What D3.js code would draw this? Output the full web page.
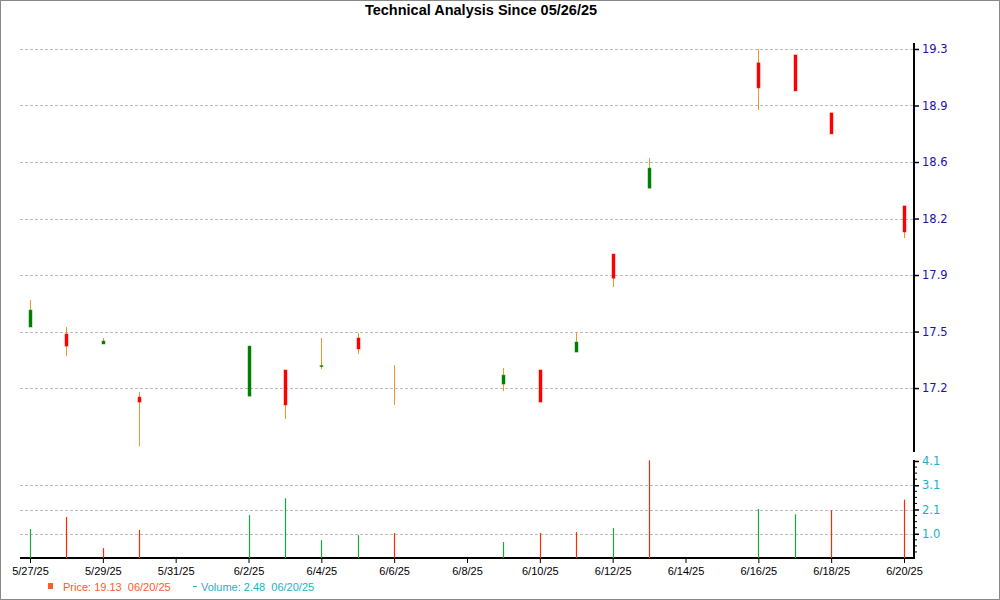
<!DOCTYPE html>
<html>
<head>
<meta charset="utf-8">
<script src="https://cdn.jsdelivr.net/npm/d3@7"></script>
<style>
  html, body { margin: 0; padding: 0; background: #fff; }
  svg { display: block; font-family: Arial, "Liberation Sans", sans-serif; }
</style>
</head>
<body>
<svg id="chart" width="1000" height="600"></svg>
<script>
// ---- data ----
const dates = ["2025-05-27","2025-05-28","2025-05-29","2025-05-30","2025-06-02","2025-06-03","2025-06-04","2025-06-05","2025-06-06","2025-06-09","2025-06-10","2025-06-11","2025-06-12","2025-06-13","2025-06-16","2025-06-17","2025-06-18","2025-06-20"];
const opens  = [17.598,17.555,17.493,17.164,17.170,17.332,17.353,17.530,17.250,17.245,17.332,17.443,18.050,18.458,19.234,19.283,18.924,18.348];
const highs  = [17.765,17.598,17.530,17.195,17.480,17.332,17.530,17.561,17.362,17.344,17.332,17.567,18.050,18.645,19.320,19.283,18.924,18.348];
const lows   = [17.598,17.418,17.493,16.860,17.170,17.028,17.338,17.431,17.115,17.201,17.133,17.443,17.846,18.458,18.942,19.060,18.794,18.149];
const closes = [17.703,17.480,17.511,17.133,17.480,17.115,17.359,17.462,17.250,17.300,17.133,17.505,17.900,18.582,19.079,19.060,18.794,18.187];
const volumes = [1.23,1.74,0.42,1.19,1.82,2.54,0.76,0.97,1.06,0.68,1.06,1.10,1.27,4.15,2.08,1.86,2.03,2.48];
const volumeUp = [true,false,false,false,true,true,true,true,false,true,false,false,true,false,true,true,false,false];
const priceTicks = [17.22,17.57,17.92,18.27,18.62,18.97,19.32];
const priceTickLabels = ["17.2","17.5","17.9","18.2","18.6","18.9","19.3"];
const volTicks = [1.03,2.06,3.09,4.12];
const volTickLabels = ["1.0","2.1","3.1","4.1"];
const dateTicks = ["2025-05-27","2025-05-29","2025-05-31","2025-06-02","2025-06-04","2025-06-06","2025-06-08","2025-06-10","2025-06-12","2025-06-14","2025-06-16","2025-06-18","2025-06-20"];
const titleText = "Technical Analysis Since 05/26/25";
const legendPrice = "Price: 19.13  06/20/25";
const legendVolume = "Volume: 2.48  06/20/25";

// ---- setup ----
const parse = d3.timeParse("%Y-%m-%d");
const fmt = d3.timeFormat("%-m/%-d/%y");
const svg = d3.select("#chart");
const W = 1000, H = 600;
const plotLeft = 20, plotRight = 914;
const priceTop = 43, priceBottom = 452;
const volTop = 460, volBottom = 558;

const x = d3.scaleTime().domain([parse("2025-05-27"), parse("2025-06-20")]).range([30, 904]);
const y = d3.scaleLinear().domain([16.824, 19.357]).range([priceBottom, priceTop]);
const yv = d3.scaleLinear().domain([0, 4.12]).range([volBottom, 461]);

const rows = dates.map((d, i) => ({date: parse(d), o: opens[i], h: highs[i], l: lows[i], c: closes[i], v: volumes[i], up: volumeUp[i]}));

// border
svg.append("rect").attr("x", 0.5).attr("y", 0.5).attr("width", W - 1).attr("height", H - 1)
  .attr("fill", "#fff").attr("stroke", "#888").attr("stroke-width", 1);

// title
svg.append("text").attr("x", 481).attr("y", 15).attr("text-anchor", "middle")
  .attr("font-size", 14.5).attr("font-weight", "bold").attr("fill", "#000").text(titleText);

// price gridlines
svg.append("g").selectAll("line").data(priceTicks).join("line")
  .attr("x1", plotLeft).attr("x2", plotRight - 1)
  .attr("y1", d => Math.round(y(d)) + 0.5).attr("y2", d => Math.round(y(d)) + 0.5)
  .attr("stroke", "#bbb").attr("stroke-dasharray", "3,2");

// volume gridlines
svg.append("g").selectAll("line").data(volTicks.slice(0, 3)).join("line")
  .attr("x1", plotLeft).attr("x2", plotRight - 1)
  .attr("y1", d => Math.round(yv(d)) + 0.5).attr("y2", d => Math.round(yv(d)) + 0.5)
  .attr("stroke", "#bbb").attr("stroke-dasharray", "3,2");

// price axis (right)
const pAxis = d3.axisRight(y).tickValues(priceTicks).tickSize(5).tickPadding(3)
  .tickFormat((d, i) => priceTickLabels[i]);
const pg = svg.append("g").attr("transform", `translate(${plotRight},0)`).call(pAxis);
pg.select(".domain").remove();
pg.append("line").attr("x1", 0).attr("x2", 0).attr("y1", priceTop).attr("y2", priceBottom)
  .attr("stroke", "#000").attr("stroke-width", 2);
pg.selectAll(".tick line").attr("stroke", "#000").attr("stroke-width", 1.5);
pg.selectAll(".tick text").attr("fill", "#1c14a8")
  .attr("font-family", "Verdana, 'DejaVu Sans', sans-serif").attr("font-size", 11.5);

// volume axis (right)
const vAxis = d3.axisRight(yv).tickValues(volTicks).tickSize(5).tickPadding(3)
  .tickFormat((d, i) => volTickLabels[i]);
const vg = svg.append("g").attr("transform", `translate(${plotRight},0)`).call(vAxis);
vg.select(".domain").remove();
vg.append("line").attr("x1", 0).attr("x2", 0).attr("y1", volTop).attr("y2", volBottom)
  .attr("stroke", "#000").attr("stroke-width", 2);
vg.selectAll(".tick line").attr("stroke", "#000").attr("stroke-width", 1.5);
vg.selectAll(".tick text").attr("fill", "#1ab0c8")
  .attr("font-family", "Verdana, 'DejaVu Sans', sans-serif").attr("font-size", 11.5);
// minor ticks
const minor = d3.range(0.2575, 4.12, 0.2575).filter(v => !volTicks.some(t => Math.abs(t - v) < 0.01));
vg.append("g").selectAll("line").data(minor).join("line")
  .attr("x1", 0).attr("x2", 3).attr("y1", d => yv(d)).attr("y2", d => yv(d))
  .attr("stroke", "#000").attr("stroke-width", 1);

// x axis
const xAxis = d3.axisBottom(x).tickValues(dateTicks.map(parse)).tickSize(5).tickPadding(4).tickFormat(fmt);
const xg = svg.append("g").attr("transform", `translate(0,${volBottom})`).call(xAxis);
xg.select(".domain").remove();
xg.append("line").attr("x1", plotLeft).attr("x2", plotRight + 1).attr("y1", 0).attr("y2", 0)
  .attr("stroke", "#000").attr("stroke-width", 2);
xg.selectAll(".tick line").attr("stroke", "#000").attr("stroke-width", 1);
xg.selectAll(".tick text").attr("fill", "#000").attr("font-size", 11)
  .attr("font-family", "Arial, 'Liberation Sans', sans-serif");

// volume bars
svg.append("g").selectAll("line").data(rows).join("line")
  .attr("x1", d => Math.round(x(d.date)) + 0.5).attr("x2", d => Math.round(x(d.date)) + 0.5)
  .attr("y1", yv(0)).attr("y2", d => yv(d.v))
  .attr("stroke", d => d.up ? "#1aa83a" : "#ff2a00").attr("stroke-width", 1.2);

// candles: wicks
svg.append("g").selectAll("line").data(rows).join("line")
  .attr("x1", d => Math.round(x(d.date)) + 0.5).attr("x2", d => Math.round(x(d.date)) + 0.5)
  .attr("y1", d => y(d.h)).attr("y2", d => y(d.l))
  .attr("stroke", "#f0962a").attr("stroke-width", 1);

// candles: bodies
svg.append("g").selectAll("rect").data(rows).join("rect")
  .attr("x", d => Math.round(x(d.date)) - 1)
  .attr("width", 3)
  .attr("y", d => y(Math.max(d.o, d.c)))
  .attr("height", d => Math.abs(y(d.o) - y(d.c)))
  .attr("fill", d => d.c >= d.o ? "#008000" : "#ff0000")
  .attr("stroke", d => d.c >= d.o ? "rgba(0,128,0,0.45)" : "rgba(255,0,0,0.45)")
  .attr("stroke-width", d => Math.abs(y(d.o) - y(d.c)) > 0.5 ? 1 : 0);

// legend
const lg = svg.append("g").attr("font-size", 11).attr("font-family", "Arial, 'Liberation Sans', sans-serif");
lg.append("rect").attr("x", 48).attr("y", 583).attr("width", 5).attr("height", 6).attr("fill", "#ff5a2a");
lg.append("text").attr("x", 63).attr("y", 591).attr("fill", "#ff5a2a").attr("xml:space", "preserve").text(legendPrice);
lg.append("line").attr("x1", 193).attr("x2", 197).attr("y1", 586.5).attr("y2", 586.5).attr("stroke", "#22b0c8");
lg.append("text").attr("x", 201).attr("y", 591).attr("fill", "#22b0c8").attr("xml:space", "preserve").text(legendVolume);
</script>
</body>
</html>
